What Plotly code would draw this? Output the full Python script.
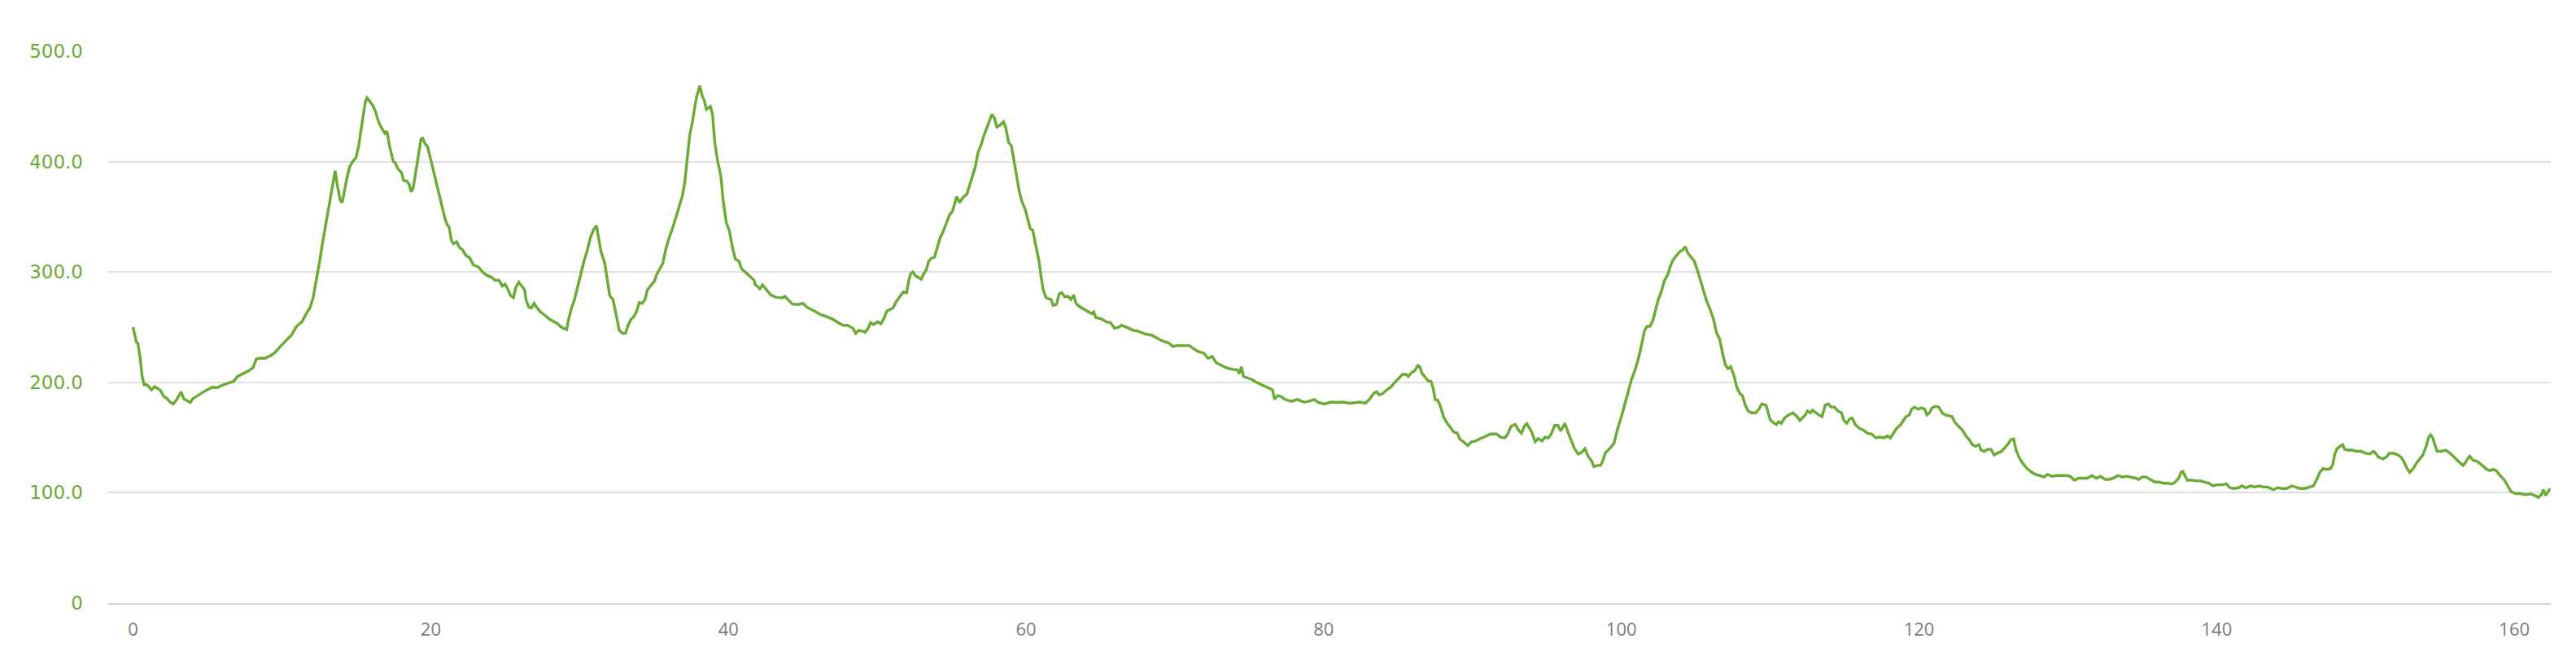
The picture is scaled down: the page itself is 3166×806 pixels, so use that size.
import plotly.graph_objects as go

# Elevation profile (distance km, elevation m) in sections
section_a = [(0,250),(0.22,236.8),(0.33,235),(0.47,222.8),(0.61,205.4),(0.75,197.8),(0.89,197.8),(1.03,196.7),(1.23,193.2),(1.45,196),(1.67,194.3),(1.87,192.2),(2.06,187.3),(2.29,185.2),(2.51,181.8),(2.7,180.4),(2.9,183.8),(3.07,188),(3.23,191.5),(3.4,185.2),(3.6,183.5),(3.85,181.8),(4.01,185.2),(4.24,187.3),(4.57,189.8),(4.93,192.9),(5.35,195.7),(5.63,195),(6.05,197.8),(6.47,199.9),(6.75,200.9),(7.03,205.4),(7.45,208.2),(7.8,210.7),(8.06,213.4),(8.28,221.1),(8.47,221.8),(8.84,221.8),(9.2,223.9),(9.53,227),(9.95,233.3),(10.31,238.5),(10.65,243),(10.98,250.7),(11.35,254.9),(11.62,261.8),(11.9,268.1),(12.1,276.8),(12.32,292.5),(12.54,309.9),(12.74,327.3),(13.02,348.2),(13.3,369.1),(13.44,381.3),(13.58,391.7),(13.71,379.5),(13.91,365.6),(14.05,362.8),(14.22,376),(14.36,384.7),(14.55,395.2),(14.77,400.4),(14.97,403.2),(15.16,414.3),(15.33,430),(15.44,438.7),(15.61,454.4),(15.72,457.9),(15.89,455),(16.08,451.6),(16.28,445.7),(16.5,435.9),(16.72,430),(16.92,425.5),(17.06,427.6),(17.23,414.3),(17.48,400.4),(17.62,398.7),(17.79,393.5),(18.04,390),(18.17,383),(18.4,382.3),(18.57,378.8),(18.68,372.6),(18.82,376),(19.01,393.5),(19.18,409.1),(19.35,420.6),(19.46,421.3),(19.62,416.1),(19.79,413.6),(19.99,402.2),(20.27,386.5),(20.54,372.6),(20.74,360.4),(20.96,348.2),(21.1,343),(21.24,340.5),(21.38,329),(21.52,325.6),(21.74,327.3),(21.94,322.1),(22.13,320.3),(22.36,315.1),(22.63,312.7),(22.86,306.4),(23.19,304.7),(23.53,299.4),(23.8,296.7),(24.08,295.3),(24.31,292.5),(24.59,292.5),(24.81,287.3),(24.99,289),(25.14,285.5),(25.37,278.5),(25.56,276.8),(25.7,285.5),(25.92,290.7),(26.12,287.3),(26.31,283.8),(26.4,275.1),(26.59,268.1),(26.76,267.4),(26.95,271.6),(27.15,267.4),(27.37,263.9),(27.65,261.1),(27.93,257.7),(28.21,255.6),(28.49,253.5),(28.77,250),(28.99,249),(29.13,247.9),(29.27,257.7),(29.46,267.4),(29.66,275.1),(29.88,287.3),(30.1,299.4),(30.3,309.9),(30.5,318.6),(30.72,330.8),(30.94,338.4),(31.14,341.9),(31.28,330.8),(31.44,318.6),(31.69,308.1),(31.83,296),(32.03,278.5),(32.25,275),(32.39,264.6),(32.53,255.9),(32.67,247.2),(32.89,244.4),(33.09,244.4),(33.23,250.7),(33.45,257),(33.64,259.4),(33.84,264.6),(34.01,272.3),(34.2,271.6),(34.4,275.1),(34.56,283.8),(34.76,287.3),(35.04,291.8),(35.18,297.7),(35.46,304.7),(35.6,308.1),(35.79,320.3),(36.01,330.8),(36.29,341.2),(36.52,351.7),(36.71,358.6),(36.91,369.1),(37.07,381.3),(37.27,403.9),(37.41,424.8),(37.55,433.5),(37.69,445.7),(37.85,457.9),(38.08,468.7),(38.24,459.6),(38.38,455.4),(38.52,447.4),(38.69,449.1),(38.8,449.9),(38.94,442.2),(39.08,417.8),(39.28,400.4),(39.5,386.5),(39.64,365.6),(39.86,344.7),(40.06,337.7),(40.25,323.8),(40.47,311.6),(40.7,309.9),(40.89,302.9),(41.17,299.4),(41.45,296),(41.73,292.5)]

section_b = [(41.79,289),(42.12,284.8),(42.29,288.3),(42.57,283.8),(42.85,279.2),(43.18,277.2),(43.6,276.5),(43.8,277.9),(44.02,274.4),(44.3,270.9),(44.72,270.5),(45,271.6),(45.28,268.1),(45.56,266),(45.84,263.9),(46.26,261.1),(46.76,258.7),(47.04,257),(47.37,254.2),(47.71,251.7),(48.02,251.7),(48.21,250),(48.38,249),(48.55,244.4),(48.77,247.2),(48.99,246.5),(49.19,245.5),(49.39,249),(49.55,254.2),(49.75,252.4),(50.03,254.9),(50.25,253.1),(50.45,257.7),(50.64,264.6),(50.87,266.4),(51.06,267.4),(51.28,273.3),(51.56,277.9),(51.76,282),(51.98,281.3),(52.12,292.5),(52.26,298.7),(52.4,300.1),(52.57,296.7),(52.74,295.3),(52.96,293.5),(53.1,297.7),(53.3,302.2),(53.46,309.9),(53.66,312.7),(53.85,313.4),(54.02,322.1),(54.22,330.8),(54.41,336),(54.64,344.7),(54.86,351.7),(55.06,355.2),(55.2,362.1),(55.34,368.4),(55.53,362.8),(55.75,367.3),(56.03,370.8),(56.23,379.5),(56.4,388.2),(56.59,395.2),(56.79,409.1),(57.01,416.1),(57.15,423),(57.35,430),(57.51,437),(57.71,442.9),(57.88,439.4),(58.04,431.5),(58.27,433.2),(58.49,436.1),(58.63,431.3),(58.83,417.4),(59.02,414.3),(59.19,400.4),(59.39,386.5),(59.53,374.3),(59.72,363.9),(59.94,356.9),(60.11,348.2),(60.28,339.4),(60.45,337.7),(60.59,329),(60.73,318.6),(60.87,309.9),(61.01,296),(61.15,283.8),(61.34,276.8),(61.48,275.8),(61.68,275.1),(61.82,269.8),(62.04,270.5),(62.23,280.3),(62.4,281.3),(62.6,277.5),(62.82,277.9),(63.02,275.1),(63.21,279.2),(63.35,271.6),(63.58,268.8),(63.99,265.7),(64.41,262.2),(64.55,263.9),(64.69,258.7),(65.03,257.7),(65.39,254.9),(65.67,254.2),(65.95,249),(66.23,250),(66.42,251.7),(66.79,249.7),(67.21,247.2),(67.49,246.5),(67.77,244.8),(68.04,243.7),(68.46,242.7),(68.88,239.6),(69.16,237.5),(69.58,235.7),(69.86,232.6),(70.14,233.3),(70.56,233.3),(70.98,233.3),(71.26,230.5),(71.54,228.1),(71.96,226.3),(72.23,221.8),(72.51,223.5),(72.79,217.6),(73.07,215.9),(73.49,213.1),(73.91,211.7),(74.19,211.4),(74.33,207.9),(74.47,214.1),(74.61,205.4),(74.8,204.4),(75.17,202.6),(75.45,200.2),(75.87,197.8),(76.28,195),(76.56,193.2),(76.7,184.5),(76.9,188),(77.12,187.3),(77.4,184.5),(77.82,182.8),(78.24,184.5),(78.66,182.1),(78.99,182.8),(79.36,184.5),(79.64,181.8),(80.06,180.4),(80.47,182.1),(80.89,181.8),(81.31,182.1),(81.73,181.1),(82.15,181.8),(82.43,182.1),(82.79,181.1),(83.07,184.5),(83.35,189.8)]

section_c = [(83.54,191.5),(83.73,188.7),(83.96,189.8),(84.23,193.2),(84.51,195.7),(84.79,200.2),(85.07,204.4),(85.29,207.2),(85.54,207.2),(85.68,205.4),(85.91,208.9),(86.13,210.7),(86.32,215.2),(86.46,214.1),(86.6,208.2),(86.8,204.4),(87.02,201.3),(87.21,200.9),(87.35,195),(87.49,184.5),(87.66,183.8),(87.86,177.6),(88.05,168.9),(88.27,163.6),(88.55,158.4),(88.75,154.9),(88.97,154.2),(89.14,148.7),(89.39,146.2),(89.67,142.8),(89.94,146.2),(90.22,146.9),(90.5,149),(90.78,150.4),(91.2,153.2),(91.62,153.2),(91.89,150.4),(92.17,149.7),(92.37,153.2),(92.59,160.2),(92.87,161.9),(93.09,156.7),(93.29,153.9),(93.48,160.2),(93.65,162.6),(93.84,158.4),(93.98,154.9),(94.21,146.2),(94.4,149),(94.68,146.9),(94.87,150.4),(95.1,149.7),(95.29,153.2),(95.52,160.9),(95.74,160.9),(95.93,156),(96.21,163),(96.41,154.9),(96.63,146.9),(96.85,140),(97.1,135.1),(97.33,136.5),(97.55,140),(97.77,133),(98,128.8),(98.16,123.6),(98.38,124.7),(98.61,124.7),(98.77,129.5),(98.94,136.5),(99.22,140),(99.5,144.5),(99.69,154.9),(99.89,163.6),(100.11,174.1),(100.39,188),(100.67,202),(100.95,212.4),(101.17,222.8),(101.37,235),(101.56,247.2),(101.73,250.7),(101.92,250.7),(102.12,256),(102.29,264.6),(102.48,275.1),(102.68,282),(102.9,292.5),(103.12,297.7),(103.32,306.4),(103.51,311.6),(103.73,315.1),(103.93,318.6),(104.15,320.3),(104.29,323.1),(104.48,316.9),(104.71,313.4),(104.9,309.9),(105.12,301.2),(105.35,290.7),(105.54,282),(105.74,273.3),(105.96,266.4),(106.18,257.7),(106.41,244.4),(106.6,239.6),(106.8,226.3),(106.99,215.9),(107.16,212.4),(107.35,214.1),(107.58,205.4),(107.77,195),(107.97,189.8),(108.13,188),(108.33,179.3),(108.52,174.1),(108.75,172.4),(109.03,172.4),(109.25,175.8),(109.44,180.4),(109.72,179.3),(109.86,172.4),(110,166.1),(110.2,163.6),(110.42,161.9),(110.56,164.3),(110.75,162.9),(110.97,167.8),(111.25,170.6),(111.53,172.4),(111.81,168.9),(112,165.4),(112.23,168.9),(112.37,170.6),(112.51,174.1),(112.7,172.4),(112.84,174.8),(113.06,172.4),(113.26,170.6),(113.48,168.9),(113.7,179.3),(113.9,180.4),(114.09,177.6),(114.32,177.6),(114.54,174.1),(114.79,172.4),(114.96,165.4),(115.15,162.9),(115.35,167.1),(115.51,167.8),(115.71,161.9),(115.99,158.4),(116.27,156.7),(116.55,153.9),(116.82,153.2),(117.1,149.7),(117.38,150.4),(117.66,149.7),(117.88,151.5),(118.08,149.7),(118.3,154.9),(118.5,158.4),(118.78,161.9)]

section_d = [(119.12,168.9),(119.36,170.6),(119.5,175.8),(119.71,177.6),(119.94,175.8),(120.18,176.9),(120.38,175.8),(120.53,170.6),(120.7,172.4),(120.88,176.9),(121.11,178.3),(121.34,177.6),(121.55,172.4),(121.75,170.6),(121.98,169.9),(122.22,168.9),(122.42,163.6),(122.71,159.5),(122.92,156.7),(123.15,151.5),(123.38,148),(123.59,143.5),(123.79,142.1),(124.03,143.5),(124.17,138.6),(124.38,137.5),(124.61,139.3),(124.84,139.3),(125.05,134.1),(125.25,135.8),(125.54,137.5),(125.78,141),(126.01,144.5),(126.16,148),(126.36,148.7),(126.51,139.3),(126.71,132.3),(126.95,127.1),(127.24,122.2),(127.53,119.1),(127.82,116.6),(128.11,115.6),(128.4,114.2),(128.64,116.6),(128.93,114.9),(129.28,115.6),(129.57,115.6),(129.86,115.6),(130.15,114.9),(130.45,111.4),(130.74,113.2),(131.03,113.2),(131.32,113.2),(131.61,115.6),(131.91,113.2),(132.2,114.9),(132.49,112.1),(132.78,112.1),(133.07,113.2),(133.36,115.6),(133.66,114.2),(133.95,114.9),(134.24,114.2),(134.53,113.2),(134.77,112.1),(134.97,114.2),(135.26,114.2),(135.55,112.1),(135.84,109.7),(136.14,109.7),(136.43,108.6),(136.72,108.6),(137.01,107.9),(137.22,109.7),(137.45,113.2),(137.6,118.4),(137.74,119.1),(137.89,114.9),(138.03,111.4),(138.33,111.4),(138.62,110.7),(138.91,110.7),(139.2,109.7),(139.49,108.6),(139.73,106.2),(140.02,107.2),(140.37,107.2),(140.66,107.9),(140.89,104.5),(141.18,103.8),(141.48,104.5),(141.68,106.2),(141.97,104.5),(142.26,106.2),(142.56,105.2),(142.85,106.2),(143.14,105.2),(143.43,105.2),(143.81,102.7),(144.1,104.5),(144.39,103.8),(144.69,103.8),(145.04,106.2),(145.33,105.2),(145.62,103.8),(145.91,103.8),(146.26,105.2),(146.5,106.2),(146.73,112.1),(146.93,118.4),(147.14,121.9),(147.37,121.2),(147.66,121.9),(147.81,126),(147.95,135.8),(148.1,140),(148.3,142.1),(148.48,143.5),(148.59,139.3),(148.83,138.6),(149.12,138.6),(149.41,137.5),(149.71,137.5),(150,135.8),(150.29,135.1),(150.52,137.5),(150.64,136.5),(150.87,132.3),(151.17,130.6),(151.4,132.3),(151.6,135.8),(151.9,135.8),(152.19,134.1),(152.39,132.3),(152.56,128.8),(152.77,122.6),(152.97,118.4),(153.21,121.9),(153.44,127.1),(153.64,130.6),(153.85,134.1),(154.08,142.1),(154.23,149.7),(154.37,152.5),(154.52,149.7),(154.66,143.5),(154.81,137.5),(155.1,137.5),(155.39,138.6),(155.68,135.8),(155.98,132.3),(156.27,128.1),(156.56,124.7),(156.71,127.1),(156.85,130.6),(157,133),(157.23,129.5),(157.44,128.8),(157.64,127.1),(157.85,124.7),(158.14,121.2),(158.38,120.1),(158.58,121.2),(158.79,120.1),(159.04,115.6),(159.34,111.4),(159.57,106.2),(159.78,101),(160.07,99.2),(160.36,99.2),(160.79,98.2),(161.09,98.9),(161.38,97.5),(161.61,95.8),(161.82,98.2),(161.96,102.7),(162.11,97.5),(162.25,101),(162.4,103.8)]

y_tick_values = [0, 100, 200, 300, 400, 500]
y_tick_labels = ["0", "100.0", "200.0", "300.0", "400.0", "500.0"]
x_tick_values = [0, 20, 40, 60, 80, 100, 120, 140, 160]

profile = section_a + section_b + section_c + section_d
distance = [p[0] for p in profile]
elevation = [p[1] for p in profile]

LINE_GREEN = "#6aab36"

fig = go.Figure()
fig.add_trace(go.Scatter(
    x=distance, y=elevation, mode="lines",
    line=dict(color=LINE_GREEN, width=3.4),
    hoverinfo="x+y", showlegend=False,
))

fig.update_layout(
    width=3166, height=806,
    margin=dict(l=125, r=39, t=55, b=73),
    paper_bgcolor="white", plot_bgcolor="white",
    showlegend=False,
)
fig.update_xaxes(
    range=[-1.67, 162.45],
    tickvals=x_tick_values,
    ticktext=[str(v) for v in x_tick_values],
    showgrid=False, zeroline=False,
    showline=True, linecolor="#ccd6eb", linewidth=1.5,
    ticks="", ticklabelstandoff=12,
    tickfont=dict(family="Open Sans, sans-serif", size=22, color="#7a7a7a"),
)
fig.update_yaxes(
    range=[0, 500],
    tickvals=y_tick_values,
    ticktext=y_tick_labels,
    showgrid=True, gridcolor="#e0e0e0", gridwidth=1.5,
    zeroline=False, showline=False, ticks="",
    ticklabelstandoff=30,
    tickfont=dict(family="DejaVu Sans, sans-serif", size=23, color=LINE_GREEN),
)

fig.write_html("out.html")
